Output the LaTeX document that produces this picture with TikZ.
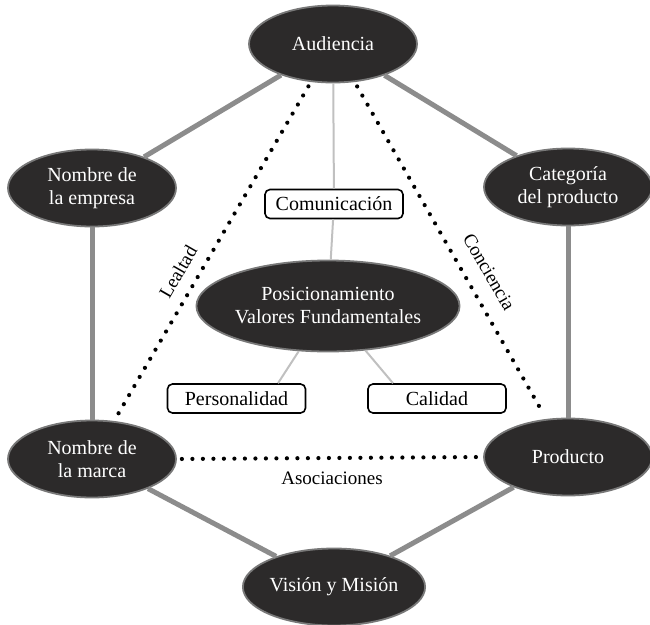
\documentclass[tikz,border=0pt]{standalone}
\usepackage{fontspec}
\setmainfont{Liberation Serif}
\usetikzlibrary{shapes.geometric,calc}
\definecolor{ellfill}{RGB}{44,42,42}
\definecolor{ellrim}{RGB}{120,120,120}
\definecolor{thickgray}{RGB}{140,140,140}
\definecolor{thingray}{RGB}{192,192,192}
\tikzset{
  ell/.style={ellipse, fill=ellfill, draw=ellrim, line width=1.8pt, inner sep=0pt,
    minimum width=168pt, minimum height=77pt, text=white, align=center,
    font=\fontsize{20}{23}\selectfont},
  bigell/.style={ell, minimum width=202pt, minimum height=91pt},
  tag/.style={draw=black, fill=white, rounded corners=5pt, line width=1.6pt,
    minimum width=138pt, minimum height=29pt, inner sep=0pt,
    font=\fontsize{20}{23}\selectfont},
  lbl/.style={font=\fontsize{19}{22}\selectfont},
  thickline/.style={draw=thickgray, line width=5pt},
  thinline/.style={draw=thingray, line width=2pt},
  dotline/.style={draw=black, line width=4.2pt, line cap=round, dash pattern=on 0pt off 10.5pt,
    shorten <=5pt, shorten >=5pt}
}
\begin{document}
\begin{tikzpicture}[x=1pt,y=-1pt]
\useasboundingbox (0,0) rectangle (650,624);
% nodes
\node[ell] (aud) at (333,44) {Audiencia};
\node[ell] (emp) at (92,188) {Nombre de\\la empresa};
\node[ell] (cat) at (568,187) {Categoría\\del producto};
\node[bigell] (pos) at (328,306) {Posicionamiento\\Valores Fundamentales};
\node[ell] (marca) at (92,459) {Nombre de\\la marca};
\node[ell] (prod) at (568,457) {Producto};
\node[ell] (vis) at (334,587) {Visión y Misión};
\node[tag] (com) at (334,204) {Comunicación};
\node[tag] (pers) at (236.5,398.5) {Personalidad};
\node[tag] (cal) at (437,398.5) {Calidad};
% thick connectors
\draw[thickline] (aud) -- (emp);
\draw[thickline] (aud) -- (cat);
\draw[thickline] (emp) -- (marca);
\draw[thickline] (cat) -- (prod);
\draw[thickline] (marca) -- (vis);
\draw[thickline] (prod) -- (vis);
% thin connectors
\draw[thinline] (aud) -- (com);
\draw[thinline] (com) -- (pos);
\draw[thinline] (pos) -- ($(pers.north)+(41.5,0)$);
\draw[thinline] (pos) -- ($(cal.north)+(-44,0)$);
% dotted connectors
\draw[dotline] (aud) -- (marca);
\draw[dotline] (aud) -- (prod);
\draw[dotline] (marca.east) -- (prod.west);
% labels
\node[lbl, rotate=60] (leal) at (178,272) {Lealtad};
\node[lbl, rotate=-60] (conc) at (489,272) {Conciencia};
\node[lbl] (asoc) at (332,478) {Asociaciones};
\end{tikzpicture}
\end{document}
